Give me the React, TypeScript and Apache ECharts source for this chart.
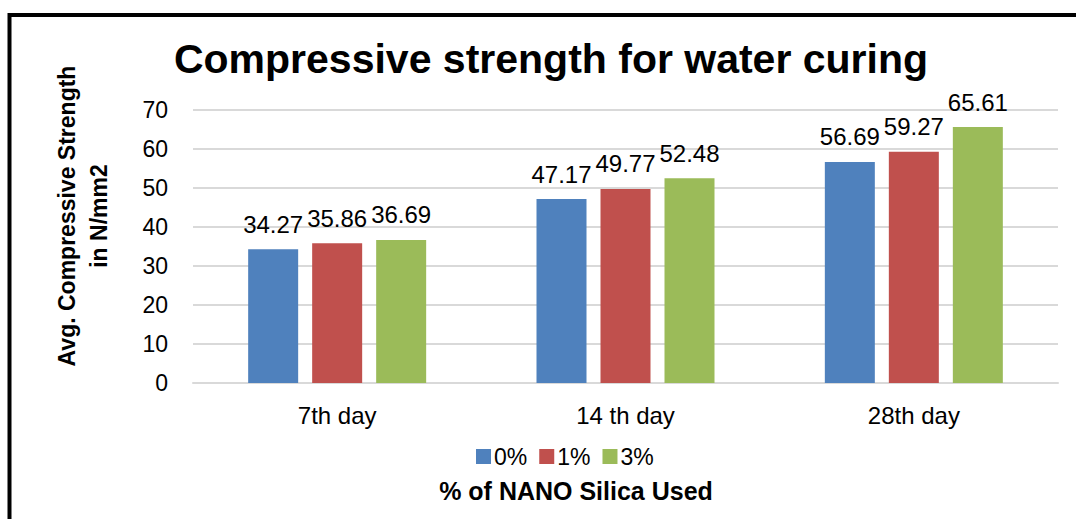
import React, { useEffect, useRef } from "react";
import * as echarts from "echarts";

const categories = ["7th day", "14 th day", "28th day"];
const seriesNames = ["0%", "1%", "3%"];
const values0 = [34.27, 47.17, 56.69];
const values1 = [35.86, 49.77, 59.27];
const values3 = [36.69, 52.48, 65.61];
const colors = ["#4f81bd", "#c0504d", "#9bbb59"];
const yMin = 0;
const yMax = 70;
const yInterval = 10;

const FONT = "'Liberation Sans', Arial, sans-serif";

export default function App() {
  const ref = useRef<HTMLDivElement>(null);
  useEffect(() => {
    if (!ref.current) return;
    const chart = echarts.init(ref.current, null, { renderer: "svg" });
    const allValues = [values0, values1, values3];
    chart.setOption({
      animation: false,
      backgroundColor: "#ffffff",
      title: {
        text: "Compressive strength for water curing",
        left: 546,
        top: 33,
        textAlign: "center",
        textStyle: { fontFamily: FONT, fontWeight: "bold", fontSize: 41, color: "#000" },
      },
      legend: {
        left: 471,
        top: 440,
        itemWidth: 15,
        itemHeight: 15,
        itemGap: 12,
        icon: "rect",
        textStyle: { fontFamily: FONT, fontSize: 23, color: "#000", padding: [0, 0, 0, -2] },
        data: seriesNames,
      },
      grid: { left: 193, right: 18, top: 110, bottom: 136 },
      xAxis: {
        type: "category",
        data: categories,
        axisLine: { lineStyle: { color: "#d9d9d9", width: 2 } },
        axisTick: { show: false },
        axisLabel: { fontFamily: FONT, fontSize: 24, color: "#000", margin: 20 },
      },
      yAxis: {
        type: "value",
        min: yMin,
        max: yMax,
        interval: yInterval,
        axisLine: { show: false },
        axisTick: { show: false },
        splitLine: { lineStyle: { color: "#d9d9d9", width: 2 } },
        axisLabel: { fontFamily: FONT, fontSize: 23, color: "#000", margin: 25 },
      },
      graphic: [
        { type: "line", shape: { x1: 9.5, y1: 15, x2: 1076, y2: 15 }, style: { stroke: "#000", lineWidth: 4 } },
        { type: "line", shape: { x1: 9.5, y1: 13, x2: 9.5, y2: 519 }, style: { stroke: "#000", lineWidth: 4 } },
        {
          type: "text",
          x: 83,
          y: 216,
          rotation: Math.PI / 2,
          style: {
            text: "Avg. Compressive Strength\nin N/mm2",
            fontFamily: FONT,
            fontWeight: "bold",
            fontSize: 23,
            lineHeight: 32,
            align: "center",
            verticalAlign: "middle",
            fill: "#000",
          },
        },
        {
          type: "text",
          x: 576,
          y: 491,
          style: {
            text: "% of NANO Silica Used",
            fontFamily: FONT,
            fontWeight: "bold",
            fontSize: 25,
            align: "center",
            verticalAlign: "middle",
            fill: "#000",
          },
        },
      ],
      series: seriesNames.map((name, i) => ({
        name,
        type: "bar",
        data: allValues[i],
        barWidth: 50,
        barGap: "28%",
        itemStyle: { color: colors[i] },
        label: {
          show: true,
          position: "top",
          distance: 13,
          fontFamily: FONT,
          fontSize: 24,
          color: "#000",
          formatter: (p: any) => p.value.toFixed(2),
        },
      })),
    });
    return () => chart.dispose();
  }, []);
  return <div ref={ref} style={{ position: "fixed", left: 0, top: 0, width: 1076, height: 519 }} />;
}
